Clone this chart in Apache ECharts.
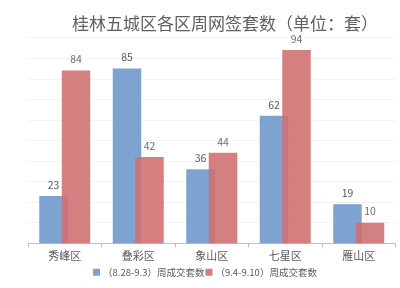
<!DOCTYPE html>
<html><head><meta charset="utf-8">
<script src="https://cdn.jsdelivr.net/npm/echarts@6/dist/echarts.min.js"></script>
<style>html,body{margin:0;padding:0;background:#fff}#c{width:400px;height:288px}</style>
</head><body><div id="c"></div>
<script>
var categories = ['秀峰区','叠彩区','象山区','七星区','雁山区'];
var seriesNames = ['（8.28-9.3）周成交套数','（9.4-9.10）周成交套数'];
var week1 = [23, 85, 36, 62, 19];
var week2 = [84, 42, 44, 94, 10];
var titleText = '桂林五城区各区周网签套数（单位：套）';

var chart = echarts.init(document.getElementById('c'), null, {renderer:'canvas'});
var font = '"Noto Sans CJK SC", "Microsoft YaHei", sans-serif';
chart.setOption({
  animation:false,
  backgroundColor:'#fff',
  title:{text:titleText,left:220,textAlign:'center',top:10,
    textStyle:{fontFamily:font,fontSize:17,fontWeight:'normal',color:'#606060'}},
  grid:{left:28,right:4.5,top:37.7,bottom:44.7},
  legend:{bottom:6,left:88,itemWidth:7,itemHeight:7,icon:'rect',itemGap:1,
    textStyle:{fontFamily:font,fontSize:9.5,color:'#595959',padding:[0,0,0,-2]},
    data:seriesNames},
  xAxis:{type:'category',data:categories,
    axisLine:{lineStyle:{color:'#bfbfbf'}},
    axisTick:{show:true,length:4,lineStyle:{color:'#bfbfbf'}},
    axisLabel:{fontFamily:font,fontSize:11,color:'#595959',margin:7}},
  yAxis:{type:'value',min:0,max:100,interval:10,
    axisLabel:{show:false},axisLine:{show:false},axisTick:{show:false},
    splitLine:{lineStyle:{color:'#f4f4f4'}}},
  series:[
    {name:seriesNames[0],type:'bar',data:week1,barWidth:28.5,barGap:'-21%',
      itemStyle:{color:'#7ea3d0'},
      label:{show:true,position:'top',distance:6,fontFamily:font,fontSize:10.5,color:'#595959'}},
    {name:seriesNames[1],type:'bar',data:week2,barWidth:28.5,barGap:'-21%',
      itemStyle:{color:'#cf6e6e',opacity:0.88},
      label:{show:true,position:'top',distance:6,fontFamily:font,fontSize:10.5,color:'#595959'}}
  ]
});
</script></body></html>
